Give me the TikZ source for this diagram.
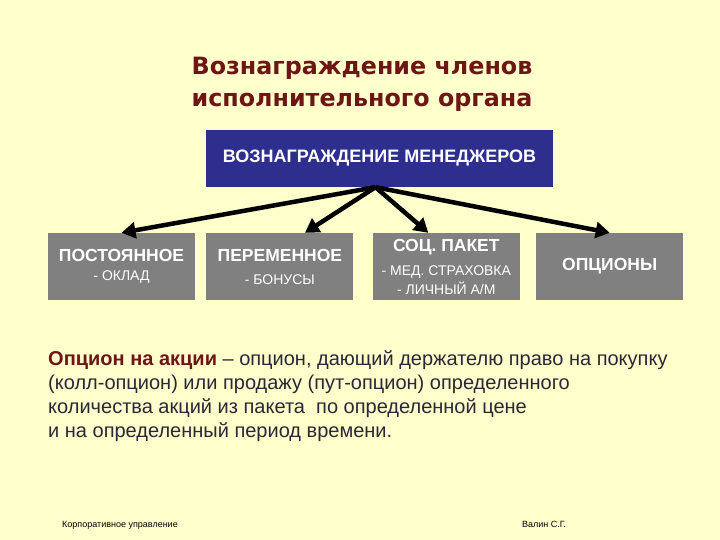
\documentclass[tikz,border=0pt]{standalone}
\usepackage{fontspec}
\setmainfont{Liberation Sans}
\newfontfamily\titlefont{DejaVu Sans}
\usetikzlibrary{positioning,calc,arrows.meta}
\definecolor{slidebg}{RGB}{255,255,204}
\definecolor{titlered}{RGB}{110,22,22}
\definecolor{mgrblue}{RGB}{46,46,143}
\definecolor{boxgray}{RGB}{128,128,128}
\definecolor{textdark}{RGB}{40,40,56}
\begin{document}
\begin{tikzpicture}[x=1pt,y=-1pt,
    part/.style={fill=boxgray,text=white,minimum width=147pt,minimum height=67pt,inner sep=0pt,align=center,
      font=\fontsize{14}{19}\selectfont},
    link/.style={black,line width=4.5pt,-{Triangle[length=14pt,width=16pt]}},
    foot/.style={anchor=base west,inner sep=0pt,font=\fontsize{9}{10}\selectfont}]
  \newcommand\headline[1]{{\bfseries\fontsize{17.5}{19}\selectfont #1}}
  \useasboundingbox[fill=slidebg] (0,0) rectangle (720,540);
  \node [titlered,align=center,font=\titlefont\bfseries\fontsize{23.8}{32}\selectfont] (title) at (362,84)
    {Вознаграждение членов\\исполнительного органа};
  \node [fill=mgrblue,text=white,minimum width=347pt,minimum height=57pt,inner sep=0pt,
    font=\bfseries\fontsize{18}{19}\selectfont] (mgr) at (379.5,158.5) {ВОЗНАГРАЖДЕНИЕ МЕНЕДЖЕРОВ};
  \node [part] (fixed) at (121.5,266.5) {\headline{ПОСТОЯННОЕ}\\- ОКЛАД};
  \node [part,right=11pt of fixed] (bonus) {\headline{ПЕРЕМЕННОЕ}\\[4pt]- БОНУСЫ};
  \node [part,right=19pt of bonus] (social) {\headline{СОЦ. ПАКЕТ}\\[5pt]- МЕД. СТРАХОВКА\\- ЛИЧНЫЙ А/М};
  \node [part,right=16pt of social] (options) {\headline{ОПЦИОНЫ}};
  \coordinate (hub) at ($(mgr.south)+(-4,0)$);
  \draw [link] (hub) -- (fixed.north);
  \draw [link] (hub) -- ($(bonus.north)+(25,0)$);
  \draw [link] (hub) -- ($(social.north)+(-18,0)$);
  \draw [link] (hub) -- (options.north);
  \node [anchor=north west,align=left,text=textdark,inner sep=0pt,font=\fontsize{20}{24}\selectfont] (def) at (48,350)
    {{\bfseries\color{titlered}Опцион на акции} -- опцион, дающий держателю право на покупку\\
     (колл-опцион) или продажу (пут-опцион) определенного\\
     количества акций из пакета\ \ по определенной цене\\
     и на определенный период времени.};
  \node [foot] (course) at (62,527) {Корпоративное управление};
  \node [foot] (author) at (522,527) {Валин С.Г.};
\end{tikzpicture}
\end{document}
